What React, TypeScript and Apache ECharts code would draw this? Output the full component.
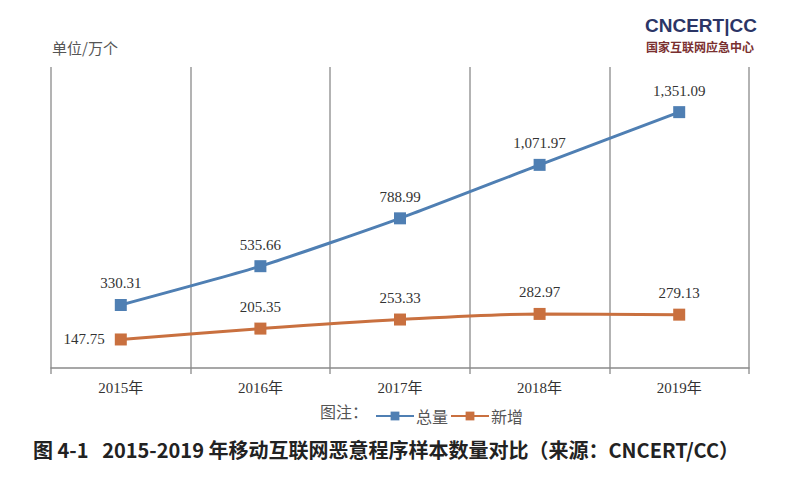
import React, { useEffect, useRef } from "react";
import * as echarts from "echarts";

const categories = ["2015年", "2016年", "2017年", "2018年", "2019年"];
const totalValues = [330.31, 535.66, 788.99, 1071.97, 1351.09];
const newValues = [147.75, 205.35, 253.33, 282.97, 279.13];
const seriesNames = ["总量", "新增"];
const unitLabel = "单位/万个";
const caption = "图 4-1   2015-2019 年移动互联网恶意程序样本数量对比（来源：CNCERT/CC）";

const fmt = (v: number) =>
  v.toLocaleString("en-US", { minimumFractionDigits: 2, maximumFractionDigits: 2 });

export default function App() {
  const ref = useRef<HTMLDivElement>(null);
  useEffect(() => {
    if (!ref.current) return;
    const chart = echarts.init(ref.current, undefined, { renderer: "svg" });
    const serif = "'Liberation Serif', 'Noto Sans CJK SC', serif";
    const cjk = "'Noto Sans CJK SC', sans-serif";
    const blue = "#4f7fb3";
    const orange = "#c9703f";
    chart.setOption({
      animation: false,
      backgroundColor: "#ffffff",
      grid: { left: 51, right: 51, top: 67, bottom: 114, containLabel: false },
      xAxis: {
        type: "category",
        data: categories,
        boundaryGap: true,
        axisLine: { lineStyle: { color: "#8a8a8a", width: 1.5 } },
        axisTick: { show: false },
        splitLine: { show: true, lineStyle: { color: "#9a9a9a", width: 1.5 } },
        axisLabel: { color: "#333", fontFamily: serif, fontSize: 15, margin: 6 },
      },
      yAxis: { type: "value", show: false, min: -35, max: 1590, splitLine: { show: false } },
      legend: {
        show: true,
        top: 403,
        left: 370,
        itemWidth: 38,
        itemHeight: 11,
        itemGap: 2,
        textStyle: { fontFamily: cjk, fontSize: 16, color: "#555", padding: [0, 0, 0, -3] },
        data: seriesNames,
      },
      series: [
        {
          name: seriesNames[0],
          type: "line",
          data: totalValues,
          smooth: 0.2,
          symbol: "rect",
          symbolSize: 12,
          itemStyle: { color: blue },
          lineStyle: { color: blue, width: 3 },
          label: {
            show: true,
            position: "top",
            distance: 8,
            fontFamily: serif,
            fontSize: 15,
            color: "#333",
            formatter: (p: any) => fmt(p.value),
          },
        },
        {
          name: seriesNames[1],
          type: "line",
          data: newValues.map((v, i) =>
            i === 0
              ? { value: v, label: { position: "left", distance: 10 } }
              : { value: v }
          ),
          smooth: 0.3,
          symbol: "rect",
          symbolSize: 12,
          itemStyle: { color: orange },
          lineStyle: { color: orange, width: 3 },
          label: {
            show: true,
            position: "top",
            distance: 8,
            fontFamily: serif,
            fontSize: 15,
            color: "#333",
            formatter: (p: any) => fmt(p.value),
          },
        },
      ],
      graphic: [
        {
          type: "text",
          left: 52,
          top: 40,
          style: { text: unitLabel, fontFamily: cjk, fontSize: 15, fill: "#555" },
        },
        {
          type: "text",
          left: 320,
          top: 403,
          style: { text: "图注：", fontFamily: cjk, fontSize: 16, fill: "#555" },
        },
        {
          type: "text",
          left: 33,
          top: 439,
          style: { text: caption, fontFamily: cjk, fontSize: 20, fontWeight: "bold", fill: "#222" },
        },
        {
          type: "text",
          left: 645,
          top: 16,
          style: {
            text: "CNCERT|CC",
            fontFamily: "'Liberation Sans', sans-serif",
            fontSize: 19,
            fontWeight: "bold",
            fill: "#2b3566",
          },
        },
        {
          type: "text",
          left: 646,
          top: 40,
          style: { text: "国家互联网应急中心", fontFamily: cjk, fontSize: 12, fontWeight: "bold", fill: "#7a3030" },
        },
      ],
    });
    return () => chart.dispose();
  }, []);
  return (
    <div
      ref={ref}
      style={{ position: "fixed", left: 0, top: 0, width: 800, height: 488 }}
    />
  );
}
